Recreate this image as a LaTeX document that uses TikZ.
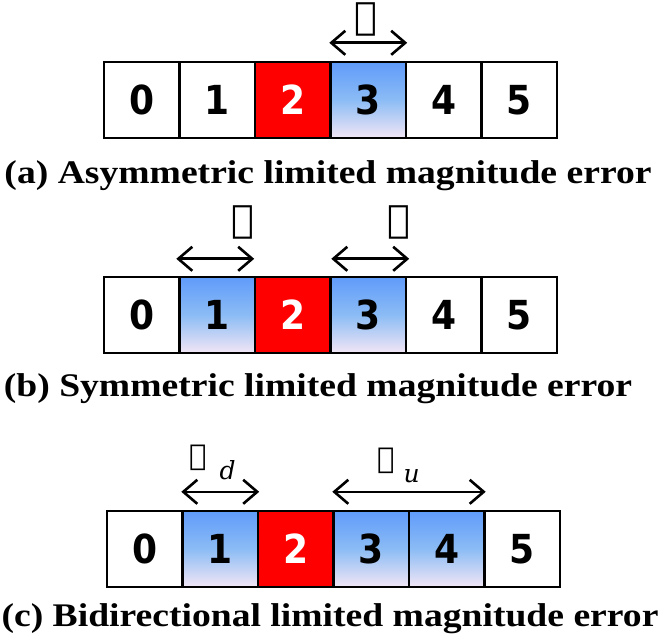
\documentclass[tikz,border=0pt]{standalone}
\usepackage{fontspec}
\setmainfont{Liberation Serif}
\newfontfamily\capfont[FakeStretch=1.14]{Liberation Serif}
\newfontfamily\digitfont[FakeStretch=0.9]{DejaVu Sans}
\newfontfamily\ellfont{DejaVu Serif}
\newcommand{\subfont}{\fontsize{25}{25}\selectfont\itshape}
\usetikzlibrary{arrows.meta}
\definecolor{errred}{RGB}{255, 0, 0}
\definecolor{nearblue}{RGB}{95, 155, 250}
\definecolor{midblue}{RGB}{140, 188, 245}
\definecolor{nearpink}{RGB}{242, 230, 245}
\tikzset{
  cell/.style={draw, line width=2.4pt, minimum width=75.5pt, minimum height=76pt, inner sep=0pt, font=\digitfont\fontsize{40}{40}\selectfont\bfseries},
  hit/.style={cell, fill=errred, text=white},
  near/.style={cell, top color=nearblue, bottom color=nearpink, middle color=midblue},
  span/.style={{Straight Barb[length=14pt, width=24pt]}-{Straight Barb[length=14pt, width=24pt]}, line width=2.6pt},
  mag/.style={inner sep=0pt, font=\ellfont\fontsize{38}{38}\selectfont},
  submag/.style={anchor=base west, inner sep=0pt, font=\ellfont\fontsize{29}{29}\selectfont},
  captext/.style={anchor=base, inner sep=0pt, font=\capfont\fontsize{33}{33}\selectfont\bfseries}
}
\begin{document}
\begin{tikzpicture}[x=1pt, y=-1pt]
  \useasboundingbox (0,0) rectangle (659,644);

  % (a) asymmetric
  \node[cell] (a0) at (141.75, 100) {0};
  \node[cell] (a1) at (217.25, 100) {1};
  \node[hit]  (a2) at (292.75, 100) {2};
  \node[near] (a3) at (368.25, 100) {3};
  \node[cell] (a4) at (443.75, 100) {4};
  \node[cell] (a5) at (519.25, 100) {5};
  \draw[span] ([yshift=18pt]a3.north west) -- ([yshift=18pt]a3.north east);
  \node[mag] (la) at (366, 19) {ℓ};
  \node[captext] (capa) at (328, 184) {(a) Asymmetric limited magnitude error};

  % (b) symmetric
  \node[cell] (b0) at (141.75, 315) {0};
  \node[near] (b1) at (217.25, 315) {1};
  \node[hit]  (b2) at (292.75, 315) {2};
  \node[near] (b3) at (368.25, 315) {3};
  \node[cell] (b4) at (443.75, 315) {4};
  \node[cell] (b5) at (519.25, 315) {5};
  \draw[span] ([xshift=-2pt, yshift=17pt]b1.north west) -- ([xshift=-2pt, yshift=17pt]b1.north east);
  \draw[span] ([xshift=2pt, yshift=17pt]b3.north west) -- ([xshift=2pt, yshift=17pt]b3.north east);
  \node[mag] (lb1) at (243, 222) {ℓ};
  \node[mag] (lb3) at (399, 222) {ℓ};
  \node[captext] (capb) at (318, 397) {(b) Symmetric limited magnitude error};

  % (c) bidirectional
  \node[cell] (c0) at (144.75, 549) {0};
  \node[near] (c1) at (220.25, 549) {1};
  \node[hit]  (c2) at (295.75, 549) {2};
  \node[near] (c3) at (371.25, 549) {3};
  \node[near] (c4) at (446.75, 549) {4};
  \node[cell] (c5) at (522.25, 549) {5};
  \draw[span] ([yshift=18pt]c1.north west) -- ([yshift=18pt]c1.north east);
  \draw[span] ([yshift=18pt]c3.north west) -- ([yshift=18pt]c4.north east);
  \node[submag] (lc1) at (189, 465) {ℓ\hspace{13pt}\raisebox{-14pt}{\subfont d}};
  \node[submag] (lc3) at (377, 468) {ℓ\hspace{9pt}\raisebox{-14pt}{\subfont u}};
  \node[captext] (capc) at (330, 626) {(c) Bidirectional limited magnitude error};
\end{tikzpicture}
\end{document}
